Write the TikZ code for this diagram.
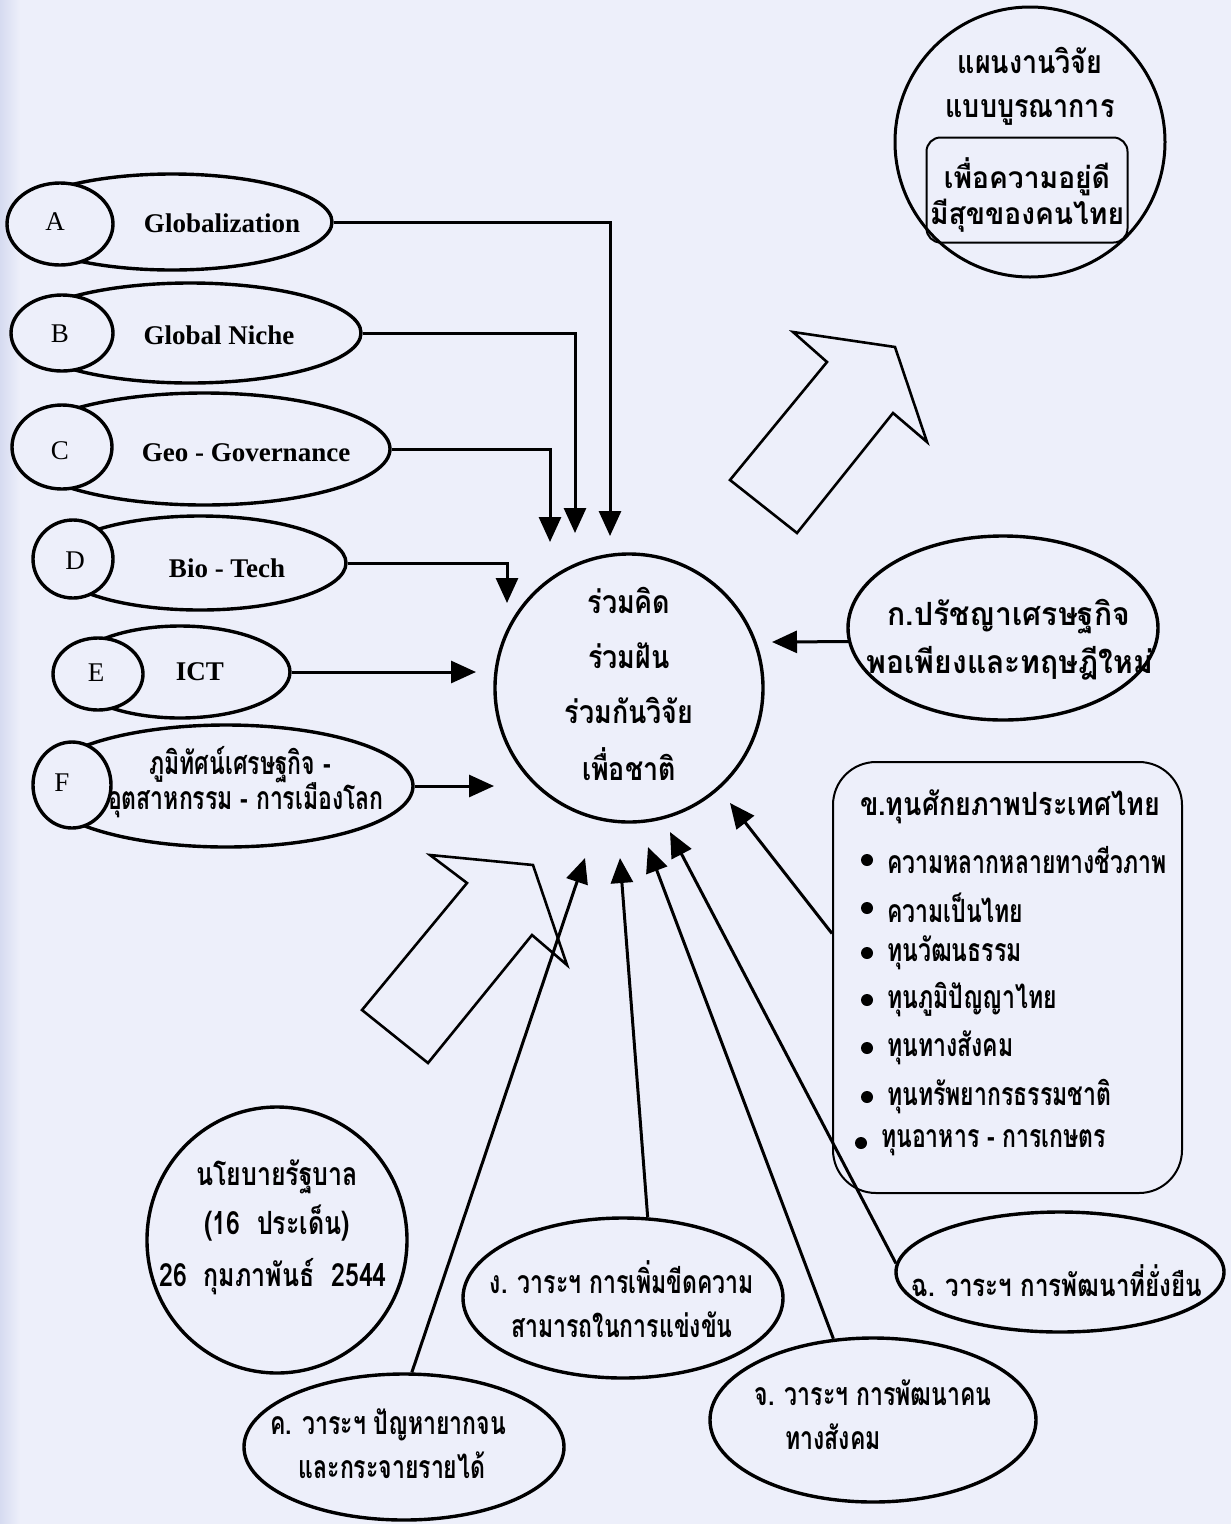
\documentclass[tikz,border=0pt]{standalone}
\usepackage{fontspec}
\setmainfont{Liberation Serif}
\newfontfamily\thA[Script=Thai,FakeStretch=0.84]{Loma}
\newfontfamily\thC[Script=Thai,FakeStretch=0.72]{Loma}
\newfontfamily\thG[Script=Thai,FakeStretch=0.78]{Loma}
\newfontfamily\thK[Script=Thai,FakeStretch=0.94]{Loma}
\usetikzlibrary{shapes.geometric,arrows.meta,calc}
\definecolor{bg}{RGB}{237,239,250}
\definecolor{edge}{RGB}{214,219,240}
\tikzset{
  ell/.style={draw, ellipse, line width=3.4pt, inner sep=0pt},
  sm/.style={ell, fill=bg},
  conn/.style={line width=3pt, -{Triangle[length=25pt,width=22pt]}},
  lat/.style={font=\fontsize{27}{30}\selectfont\bfseries, inner sep=0pt},
  let/.style={font=\fontsize{27}{30}\selectfont, inner sep=0pt},
  th/.style={font=\thA\fontsize{32}{34}\selectfont\bfseries, inner sep=0pt},
  thc/.style={font=\thC\fontsize{32}{34}\selectfont\bfseries, inner sep=0pt},
  thg/.style={font=\thG\fontsize{32}{34}\selectfont\bfseries, inner sep=0pt},
  thgs/.style={font=\thG\fontsize{31}{34}\selectfont\bfseries, inner sep=0pt},
  thk/.style={font=\thK\fontsize{32}{34}\selectfont\bfseries, inner sep=0pt},
  thks/.style={font=\thK\fontsize{30}{33}\selectfont\bfseries, inner sep=0pt},
  thw/.style={thc, anchor=west},
  blk/.style={draw, line width=2.6pt, line join=miter},
  bul/.style={circle, fill, inner sep=0pt, minimum size=12pt},
}
\begin{document}
\begin{tikzpicture}[x=1pt,y=-1pt]
\useasboundingbox (0,0) rectangle (1231,1524);
\fill[bg] (0,0) rectangle (1231,1524);
\shade[left color=edge, right color=bg] (0,0) rectangle (20,1524);

% top-right plan circle
\node[draw, circle, minimum size=270pt, line width=3pt, inner sep=0pt] (plan) at (1030,142) {};
\node[th] (plan1) at (1030,60) {แผนงานวิจัย};
\node[th] (plan2) at (1030,112) {แบบบูรณาการ};
\node[draw, rounded corners=14pt, line width=2pt, minimum width=201pt, minimum height=105pt, inner sep=0pt] (goal) at (1027,190) {};
\node[thks] (goal1) at (1027,177) {เพื่อความอยู่ดี};
\node[thks] (goal2) at (1027,216) {มีสุขของคนไทย};

% left ellipses
\node[ell, minimum width=320pt, minimum height=96pt] (bigA) at (172,222) {};
\node[sm, minimum width=106pt, minimum height=82pt] (smA) at (60,224) {};
\node[let] (lA) at (55,222) {A};
\node[lat] (tA) at (222,223) {Globalization};

\node[ell, minimum width=342pt, minimum height=100pt] (bigB) at (190,333) {};
\node[sm, minimum width=102pt, minimum height=76pt] (smB) at (62,333) {};
\node[let] (lB) at (60,334) {B};
\node[lat] (tB) at (219,335) {Global Niche};

\node[ell, minimum width=372pt, minimum height=112pt] (bigC) at (204,449) {};
\node[sm, minimum width=100pt, minimum height=84pt] (smC) at (62,447) {};
\node[let] (lC) at (60,451) {C};
\node[lat] (tC) at (246,453) {Geo - Governance};

\node[ell, minimum width=292pt, minimum height=94pt] (bigD) at (200,563) {};
\node[sm, minimum width=80pt, minimum height=78pt] (smD) at (73,559) {};
\node[let] (lD) at (75,561) {D};
\node[lat] (tD) at (227,568) {Bio - Tech};

\node[ell, minimum width=220pt, minimum height=92pt] (bigE) at (180,672) {};
\node[sm, minimum width=90pt, minimum height=72pt] (smE) at (98,674) {};
\node[let] (lE) at (96,673) {E};
\node[lat] (tE) at (200,672) {ICT};

\node[ell, minimum width=374pt, minimum height=122pt] (bigF) at (226,786) {};
\node[sm, minimum width=78pt, minimum height=86pt] (smF) at (72,785) {};
\node[let] (lF) at (62,783) {F};
\node[thc] (tF1) at (240,765) {ภูมิทัศน์เศรษฐกิจ -};
\node[thc] (tF2) at (246,800) {อุตสาหกรรม - การเมืองโลก};

% centre circle
\node[draw, circle, minimum size=268pt, line width=3.4pt, inner sep=0pt] (core) at (629,688) {};
\node[th] (core1) at (629,600) {ร่วมคิด};
\node[th] (core2) at (629,656) {ร่วมฝัน};
\node[th] (core3) at (629,710) {ร่วมกันวิจัย};
\node[th] (core4) at (629,764) {เพื่อชาติ};

% tips near the centre circle
\coordinate (pA) at (610,536);
\coordinate (pB) at (575,533);
\coordinate (pC) at (550,542);
\coordinate (pD) at (507,603);
\coordinate (pE) at (476,672);
\coordinate (pF) at (494,786);
\coordinate (pKor) at (772,642);
\coordinate (pKh) at (730,803);
\coordinate (pK) at (585,858);
\coordinate (pNg) at (620,858);
\coordinate (pJ) at (648,847);
\coordinate (pCh) at (670,832);

\draw[conn] (bigA.east) -| (pA);
\draw[conn] (bigB.east) -| (pB);
\draw[conn] (bigC.east) -| (pC);
\draw[conn] (bigD.east) -| (pD);
\draw[conn] (bigE.east) -- (pE);
\draw[conn] (bigF.east) -- (pF);

% right ellipse
\node[ell, minimum width=310pt, minimum height=184pt] (kor) at (1003,628) {};
\node[thk] (kor1) at (1009,617) {ก.ปรัชญาเศรษฐกิจ};
\node[thk] (kor2) at (1010,663) {พอเพียงและทฤษฎีใหม่};
\draw[conn] (kor.185) -- (pKor);

% potential box
\node[draw, rounded corners=43pt, line width=2pt, minimum width=349pt, minimum height=431pt, inner sep=0pt] (kbox) at (1007.5,977.5) {};
\node[th] (kh0) at (1010,807) {ข.ทุนศักยภาพประเทศไทย};
\node[bul] (b1) at (867,860) {};
\node[thw] (kh1) at (887,860) {ความหลากหลายทางชีวภาพ};
\node[bul] (b2) at (867,908) {};
\node[thw] (kh2) at (887,908) {ความเป็นไทย};
\node[bul] (b3) at (867,953) {};
\node[thw] (kh3) at (887,953) {ทุนวัฒนธรรม};
\node[bul] (b4) at (867,1000) {};
\node[thw] (kh4) at (887,1000) {ทุนภูมิปัญญาไทย};
\node[bul] (b5) at (867,1048) {};
\node[thw] (kh5) at (887,1048) {ทุนทางสังคม};
\node[bul] (b6) at (867,1097) {};
\node[thw] (kh6) at (887,1097) {ทุนทรัพยากรธรรมชาติ};
\node[bul] (b7) at (861,1143) {};
\node[thw] (kh7) at (881,1143) {ทุนอาหาร - การเกษตร};
\draw[conn] ($(kbox.west)+(0,-44)$) -- (pKh);

% bottom ellipses
\node[ell, minimum width=260pt, minimum height=266pt] (gov) at (277,1240) {};
\node[thg] (gov1) at (277,1177) {นโยบายรัฐบาล};
\node[thg] (gov2) at (277,1223) {(16\ \ ประเด็น)};
\node[thg] (gov3) at (273,1277) {26\ \ กุมภาพันธ์\ \ 2544};

\node[ell, minimum width=320pt, minimum height=146pt] (kk) at (404,1447) {};
\node[thc] (kk1) at (388,1425) {ค. วาระฯ ปัญหายากจน};
\node[thc] (kk2) at (392,1465) {และกระจายรายได้};

\node[ell, minimum width=320pt, minimum height=160pt] (ng) at (623,1298) {};
\node[thc] (ng1) at (622,1277) {ง. วาระฯ การเพิ่มขีดความ};
\node[thc] (ng2) at (622,1325) {สามารถในการแข่งขัน};

\node[ell, minimum width=326pt, minimum height=164pt] (jj) at (873,1420) {};
\node[thc] (jj1) at (873,1393) {จ. วาระฯ การพัฒนาคน};
\node[thc] (jj2) at (833,1437) {ทางสังคม};

\node[ell, minimum width=328pt, minimum height=120pt] (chh) at (1060,1272) {};
\node[thgs] (chh1) at (1057,1281) {ฉ. วาระฯ การพัฒนาที่ยั่งยืน};

\draw[conn] (kk.84) -- (pK);
\draw[conn] (ng.73) -- (pNg);
\draw[conn] (jj.116) -- (pJ);
\draw[conn] (chh.177) -- (pCh);

% block arrows
\draw[blk] (362,1010) -- (467,883) -- (430,855) -- (533,865) -- (567,965) -- (532,935) -- (428,1063) -- cycle;
\draw[blk] (730,480) -- (827,362) -- (793,332) -- (895,347) -- (927,442) -- (893,413) -- (797,533) -- cycle;
\end{tikzpicture}
\end{document}
